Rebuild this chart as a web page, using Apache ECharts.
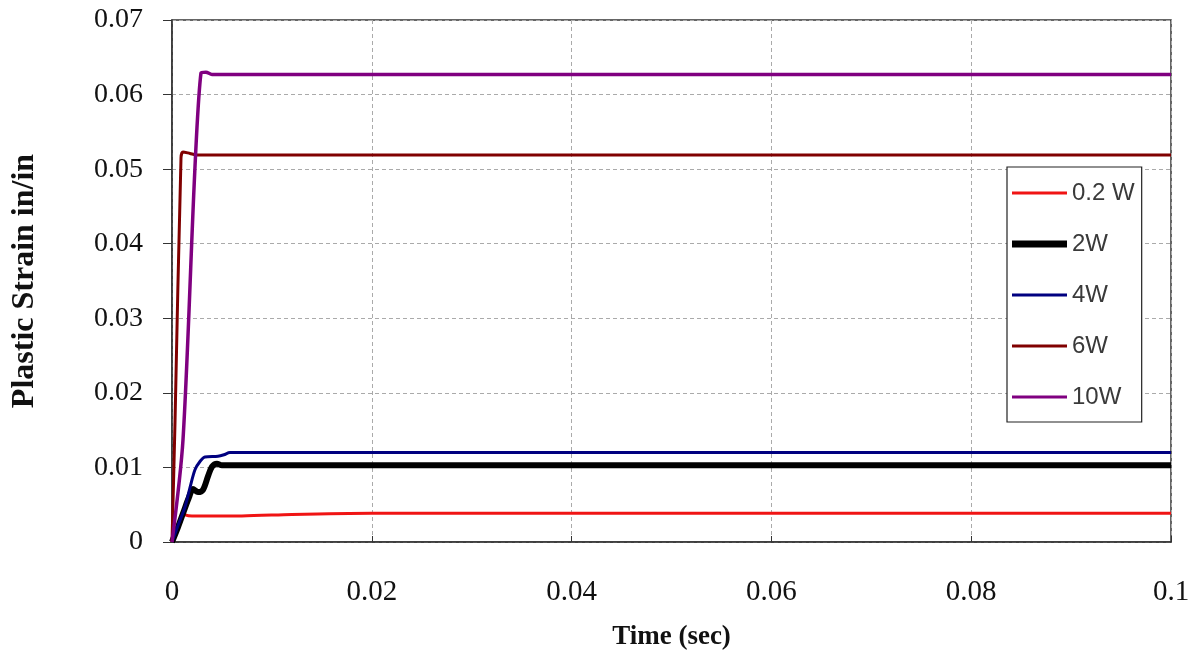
<!DOCTYPE html>
<html>
<head>
<meta charset="utf-8">
<script src="https://cdn.jsdelivr.net/npm/echarts@6/dist/echarts.min.js"></script>
<style>
html,body{margin:0;padding:0;background:#fff;}
#chart{width:1202px;height:662px;}
</style>
</head>
<body>
<div id="chart"></div>
<script>
// Data
const seriesNames = ['0.2 W', '2W', '4W', '6W', '10W'];
const seriesColors = ['#f01414', '#000000', '#000080', '#800000', '#800080'];
const seriesWidths = [3, 6, 3, 3, 3.5];
const legendThick = [3, 7, 3, 3, 3];

const t02W = [0, 0.0004, 0.0008, 0.0011, 0.0014, 0.002, 0.007, 0.012, 0.02, 0.1];
const v02W = [0, 0.0015, 0.0030, 0.0040, 0.0036, 0.0035, 0.0035, 0.0037, 0.00385, 0.00385];

const t2W = [0, 0.0006, 0.0012, 0.0017, 0.0021, 0.0026, 0.0031, 0.0036, 0.0040, 0.0045, 0.0050, 0.1];
const v2W = [0, 0.0020, 0.0042, 0.0060, 0.0071, 0.0067, 0.0070, 0.0088, 0.0101, 0.0105, 0.0103, 0.0103];

const t4W = [0, 0.0006, 0.0013, 0.0018, 0.0023, 0.0028, 0.0033, 0.0046, 0.0052, 0.0058, 0.0065, 0.1];
const v4W = [0, 0.0022, 0.0047, 0.0073, 0.0097, 0.0108, 0.0114, 0.0115, 0.0117, 0.0120, 0.0120, 0.0120];

const t6W = [0, 0.0003, 0.0009, 0.0011, 0.0018, 0.0025, 0.1];
const v6W = [0, 0.0160, 0.0515, 0.0523, 0.0521, 0.0519, 0.0519];

const t10W = [0, 0.0011, 0.0029, 0.0034, 0.0040, 0.1];
const v10W = [0, 0.0137, 0.0629, 0.0630, 0.0627, 0.0627];

const xTicks = {min: 0, max: 0.1, interval: 0.02};
const yTicks = {min: 0, max: 0.07, interval: 0.01};

const allT = [t02W, t2W, t4W, t6W, t10W];
const allV = [v02W, v2W, v4W, v6W, v10W];

function pairs(t, v) { return t.map((x, i) => [x, v[i]]); }
function fmt(v) { return String(parseFloat(v.toFixed(4))); }

const serif = 'Liberation Serif, Times New Roman, serif';

const chart = echarts.init(document.getElementById('chart'), null, {renderer: 'canvas'});
const option = {
  backgroundColor: '#ffffff',
  animation: false,
  grid: {left: 172, right: 31, top: 20, bottom: 120, containLabel: false, outerBoundsMode: 'none',
         show: true, borderColor: '#333', borderWidth: 1.5, backgroundColor: 'transparent'},
  legend: {
    orient: 'vertical',
    left: 1007, top: 167,
    padding: [14, 7, 13, 5],
    itemWidth: 55, itemHeight: 14, itemGap: 27,
    symbolKeepAspect: true,
    backgroundColor: '#ffffff',
    borderColor: '#222', borderWidth: 1.2,
    textStyle: {fontFamily: 'Liberation Sans, Arial, sans-serif', fontSize: 24, lineHeight: 24, color: '#3a3a3a'},
    data: seriesNames.map((n, i) => ({name: n, icon: 'path://M0,0H55V' + legendThick[i] + 'H0Z'}))
  },
  xAxis: {
    type: 'value', min: xTicks.min, max: xTicks.max, interval: xTicks.interval,
    axisLine: {show: true, onZero: false, lineStyle: {color: '#333', width: 1.5}},
    axisTick: {show: true, inside: true, length: 6, lineStyle: {color: '#333'}},
    axisLabel: {margin: 36, fontFamily: serif, fontSize: 29, color: '#111', formatter: fmt},
    splitLine: {show: true, lineStyle: {color: '#aaa', type: [4, 3], width: 1}},
    name: 'Time (sec)', nameLocation: 'middle', nameGap: 82,
    nameTextStyle: {fontFamily: serif, fontSize: 27, fontWeight: 'bold', color: '#111'}
  },
  yAxis: {
    type: 'value', min: yTicks.min, max: yTicks.max, interval: yTicks.interval,
    axisLine: {show: true, onZero: false, lineStyle: {color: '#333', width: 1.5}},
    axisTick: {show: true, inside: false, length: 9, lineStyle: {color: '#333'}},
    axisLabel: {margin: 29, fontFamily: serif, fontSize: 28, color: '#111', formatter: fmt},
    splitLine: {show: true, lineStyle: {color: '#aaa', type: [4, 3], width: 1}},
    name: 'Plastic Strain in/in', nameLocation: 'middle', nameGap: 131, nameRotate: 90,
    nameTextStyle: {fontFamily: serif, fontSize: 32, fontWeight: 'bold', color: '#111'}
  },
  series: seriesNames.map((name, i) => ({
    name: name,
    type: 'line',
    data: pairs(allT[i], allV[i]),
    symbol: 'none',
    smooth: 0.3,
    color: seriesColors[i],
    lineStyle: {color: seriesColors[i], width: seriesWidths[i]},
    z: 2 + i
  }))
};
chart.setOption(option);
</script>
</body>
</html>
